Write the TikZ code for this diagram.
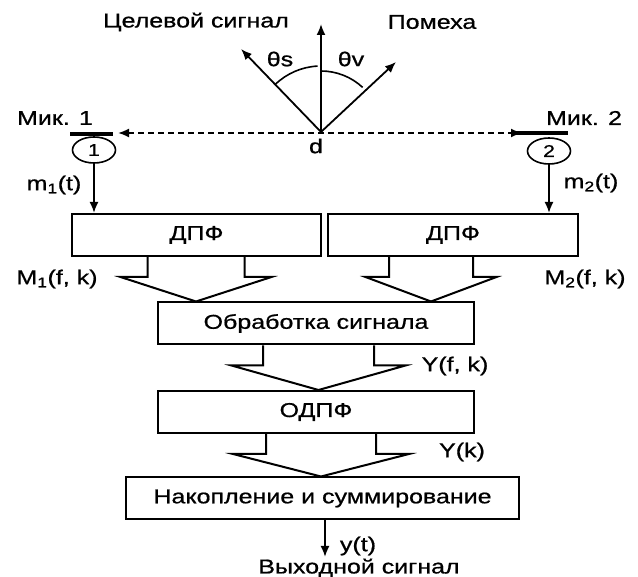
\documentclass[tikz,border=0pt]{standalone}
\usepackage{fontspec}
\setmainfont{Liberation Sans}[FakeStretch=1.25,FakeBold=0.8]
\usetikzlibrary{arrows.meta,calc,shapes.geometric}

\newcommand{\fatarrow}[5]{%
  \draw[fat] let \p1=(#1.south), \p2=(#2.north) in
    (#3pt-#4pt,\y1) -- (#3pt-#4pt,\y1-20pt) -- (#3pt-#5pt,\y1-20pt) -- (#3pt,\y2)
    -- (#3pt+#5pt,\y1-20pt) -- (#3pt+#4pt,\y1-20pt) -- (#3pt+#4pt,\y1);
}

\begin{document}
\begin{tikzpicture}[x=1pt,y=-1pt,line width=1.8pt,
  every node/.style={font=\fontsize{20}{24}\selectfont, inner sep=0pt},
  box/.style={draw, line width=2pt, minimum height=42pt},
  mic/.style={draw, ellipse, line width=1.6pt, minimum width=43pt, minimum height=26pt, font=\fontsize{17}{20}\selectfont},
  bar/.style={fill, minimum height=4.5pt},
  arr/.style={-{Latex[length=11pt,width=9pt]}},
  dline/.style={dash pattern=on 6pt off 4pt, {Latex[length=11pt,width=9pt]}-{Latex[length=11pt,width=9pt]}},
  fat/.style={line width=2pt}]
\useasboundingbox (0,0) rectangle (638,577);

% directions
\node (target) at (196,22) {Целевой сигнал};
\node (noise) at (432,22) {Помеха};
\coordinate (d) at (321,132);
\coordinate (up) at (321,24);
\coordinate (s) at (241,49);
\coordinate (v) at (396,62);
\draw[arr] (d) -- (up);
\draw[arr] (d) -- (s);
\draw[arr] (d) -- (v);
\draw[line width=1.6pt] (d) ++(-134:66) arc[start angle=-134, end angle=-93, radius=66];
\draw[line width=1.6pt] (d) ++(-90:61) arc[start angle=-90, end angle=-47, radius=61];
\node (ths) at (280,59) {θs};
\node (thv) at (351,59) {θv};
\node (dlab) at (316,146) {d};

% microphones
\node (mic1lab) at (55,118) {Мик. 1};
\node (mic2lab) at (584,118) {Мик. 2};
\node[bar, minimum width=43pt] (bar1) at (91.5,134) {};
\node[bar, minimum width=53pt] (bar2) at (541.5,133) {};
\coordinate (e1) at (118,133);
\coordinate (e2) at (522,133);
\draw[dline] (e1) -- (e2);
\node[mic] (mic1) at (94,150) {1};
\node[mic] (mic2) at (549,151) {2};
\node (m1) at (54,185) {m\textsubscript{1}(t)};
\node (m2) at (591,183) {m\textsubscript{2}(t)};

% blocks
\node[box, minimum width=249pt] (dft1) at (196.5,235) {ДПФ};
\node[box, minimum width=250pt] (dft2) at (453,235) {ДПФ};
\node[box, minimum width=316pt] (proc) at (316,323.5) {Обработка сигнала};
\node[box, minimum width=316pt] (idft) at (316,412) {ОДПФ};
\node[box, minimum width=393pt] (accum) at (322.5,498.5) {Накопление и суммирование};

\draw[arr] (mic1.south) -- (mic1.south |- dft1.north);
\draw[arr] (mic2.south) -- (mic2.south |- dft2.north);

\fatarrow{dft1}{proc}{196}{48.5}{75.5}
\fatarrow{dft2}{proc}{431}{42}{65.5}
\fatarrow{proc}{idft}{318.5}{55.5}{87}
\fatarrow{idft}{accum}{321}{55}{88}

\node (M1) at (57,279) {M\textsubscript{1}(f, k)};
\node (M2) at (585,279) {M\textsubscript{2}(f, k)};
\node (Yfk) at (455,366) {Y(f, k)};
\node (Yk) at (462,452) {Y(k)};

% output
\coordinate (out) at (325,557);
\draw[arr] (accum.south -| out) -- (out);
\node (y) at (358,546) {y(t)};
\node (outlab) at (359,568) {Выходной сигнал};
\end{tikzpicture}
\end{document}
